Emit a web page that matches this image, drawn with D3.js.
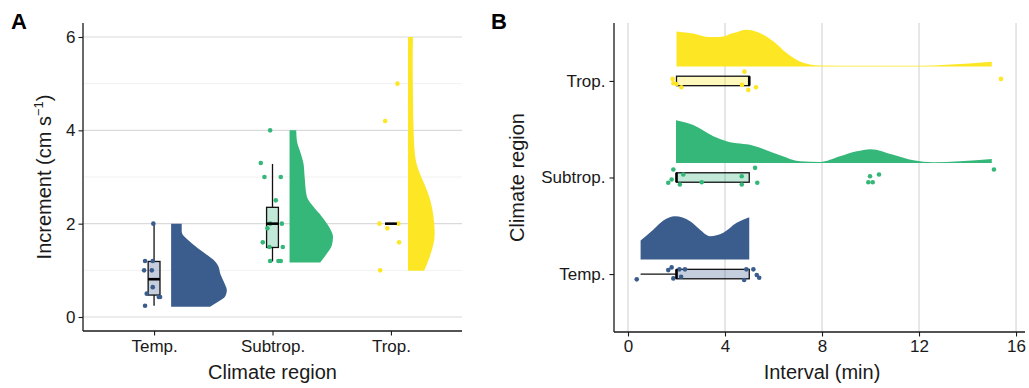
<!DOCTYPE html>
<html><head><meta charset="utf-8">
<script src="https://cdn.jsdelivr.net/npm/d3@7"></script>
<style>body{margin:0;background:#fff}svg{display:block;font-family:"Liberation Sans",Arial,sans-serif}</style>
</head><body><svg id="c" width="1029" height="388"></svg>
<script>
// ---------- data ----------
const regions = ["Temp.", "Subtrop.", "Trop."];
const palette = ["#3a5d8d", "#35b779", "#fde725"];

// Panel A : Increment (cm s^-1)
const incTicks = [0, 2, 4, 6];
const incMinorTicks = [1, 3, 5];
const incTempVals = [2.0, 1.2, 1.2, 1.0, 1.0, 0.64, 0.5, 0.43, 0.43, 0.24];
const incTempJit  = [-0.006, -0.076, -0.011, -0.084, -0.019, -0.011, -0.062, 0.040, 0.051, -0.076];
const incSubVals  = [4.0, 3.3, 3.0, 3.0, 2.5, 2.0, 2.0, 1.9, 1.6, 1.5, 1.5, 1.2, 1.2, 1.2];
const incSubJit   = [-0.020, -0.099, -0.068, 0.070, 0.028, -0.020, 0.079, -0.043, -0.082, -0.026, 0.087, -0.020, 0.050, 0.070];
const incTropVals = [5.0, 4.2, 2.0, 2.0, 1.9, 1.6, 1.0];
const incTropJit  = [0.055, -0.049, -0.097, 0.063, -0.030, 0.069, -0.091];
const incQ1  = [0.47, 1.49, 2.0];
const incMed = [0.81, 2.0, 2.0];
const incQ3  = [1.19, 2.35, 2.0];
const incLo  = [0.24, 1.19, 2.0];
const incHi  = [2.0, 3.28, 2.0];
// half-violin density profiles (value, relative density)
const incTempDensV = [2.0, 1.83, 1.58, 1.36, 1.19, 1.08, 0.94, 0.72, 0.58, 0.44, 0.33, 0.22];
const incTempDens  = [0.19, 0.19, 0.37, 0.61, 0.79, 0.85, 0.88, 0.96, 1.0, 0.97, 0.85, 0.70];
const incSubDensV  = [4.0, 3.79, 3.51, 3.29, 3.01, 2.58, 2.36, 2.15, 1.93, 1.72, 1.54, 1.36, 1.17];
const incSubDens   = [0.12, 0.13, 0.20, 0.25, 0.27, 0.31, 0.43, 0.58, 0.71, 0.78, 0.76, 0.67, 0.55];
const incTropDensV = [6.0, 5.44, 4.72, 4.01, 3.43, 3.15, 2.86, 2.58, 2.29, 2.01, 1.79, 1.58, 1.29, 0.99];
const incTropDens  = [0.09, 0.084, 0.09, 0.10, 0.13, 0.19, 0.29, 0.38, 0.44, 0.47, 0.48, 0.46, 0.39, 0.29];

// Panel B : Interval (min)
const intTicks = [0, 4, 8, 12, 16];
const intTempVals = [0.36, 1.66, 1.8, 1.87, 2.12, 2.35, 2.19, 4.88, 5.17, 4.79, 5.31, 5.41];
const intTempJit  = [0.055, -0.041, -0.069, 0.045, -0.049, -0.049, 0.028, -0.049, -0.049, 0.062, 0.010, 0.038];
const intSubVals  = [1.87, 1.66, 1.8, 2.14, 3.04, 4.69, 4.69, 5.24, 5.33, 9.98, 10.35, 9.91, 10.09, 15.09, 2.28];
const intSubJit   = [-0.083, 0.055, 0.021, 0.073, 0.049, -0.013, 0.073, -0.100, 0.055, -0.013, -0.031, 0.049, 0.049, -0.083, -0.031];
const intTropVals = [1.84, 2.0, 2.2, 4.8, 4.7, 4.96, 5.28, 15.38, 1.87];
const intTropJit  = [-0.021, 0.031, 0.065, -0.096, 0.041, 0.093, 0.065, -0.021, 0.024];
const intQ1  = [2.0, 2.0, 2.0];
const intMed = [2.0, 2.0, 5.0];
const intQ3  = [5.0, 5.0, 5.0];
const intLo  = [0.52, 2.0, 2.0];
const intHi  = [5.0, 5.0, 5.0];
const intTempDensV = [0.52, 1.04, 1.46, 1.94, 2.56, 2.97, 3.38, 3.93, 4.48, 5.0];
const intTempDens  = [0.44, 0.69, 0.90, 1.0, 0.885, 0.69, 0.54, 0.62, 0.85, 0.98];
const intSubDensV  = [1.98, 2.69, 3.52, 4.07, 5.17, 6.27, 7.09, 7.92, 8.74, 9.43, 10.0, 10.94, 11.77, 12.59, 13.69, 15.0];
const intSubDens   = [0.99, 0.88, 0.62, 0.50, 0.40, 0.18, 0.04, 0.023, 0.155, 0.27, 0.32, 0.19, 0.062, 0.016, 0.039, 0.092];
const intTropDensV = [2.0, 2.7, 3.3, 3.8, 4.34, 4.9, 5.44, 5.99, 6.54, 7.09, 7.92, 9.57, 12.0, 13.14, 15.0];
const intTropDens  = [0.81, 0.76, 0.68, 0.68, 0.77, 0.85, 0.77, 0.58, 0.31, 0.115, 0.023, 0.016, 0.016, 0.039, 0.109];

// ---------- drawing ----------
const svg = d3.select("#c");
const FONT_TICK = 17, FONT_TITLE = 20;
const zip = (a, b) => a.map((v, i) => ({v, w: b[i]}));

// ===== Panel A =====
const A = {l: 83, r: 462, t: 23, b: 331};
const xA = d3.scalePoint(regions, [A.l, A.r]).padding(0.6);
const stepA = xA.step();
const yA = d3.scaleLinear([-0.3, 6.3], [A.b, A.t]);
const wA = d3.scaleLinear([0, 1], [0, 55.7]);
const gA = svg.append("g");

gA.selectAll(".mn").data(incMinorTicks).join("line")
  .attr("x1", A.l).attr("x2", A.r).attr("y1", d => yA(d)).attr("y2", d => yA(d))
  .attr("stroke", "#ededed").attr("stroke-width", 0.8);
gA.selectAll(".mj").data(incTicks).join("line")
  .attr("x1", A.l).attr("x2", A.r).attr("y1", d => yA(d)).attr("y2", d => yA(d))
  .attr("stroke", "#dadada").attr("stroke-width", 1.2);

const incDens = [zip(incTempDensV, incTempDens), zip(incSubDensV, incSubDens), zip(incTropDensV, incTropDens)];
incDens.forEach((prof, i) => {
  const x0 = xA(regions[i]) + 0.144 * stepA;
  const area = d3.area().y(d => yA(d.v)).x0(x0).x1(d => x0 + wA(d.w)).curve(d3.curveMonotoneY);
  gA.append("path").attr("d", area(prof.slice().sort((a, b) => b.v - a.v))).attr("fill", palette[i]);
});

const bwA = 0.05 * stepA;
regions.forEach((r, i) => {
  const cx = xA(r);
  gA.append("line").attr("x1", cx).attr("x2", cx).attr("y1", yA(incHi[i])).attr("y2", yA(incQ3[i]))
    .attr("stroke", "#111").attr("stroke-width", 1.3);
  gA.append("line").attr("x1", cx).attr("x2", cx).attr("y1", yA(incQ1[i])).attr("y2", yA(incLo[i]))
    .attr("stroke", "#111").attr("stroke-width", 1.3);
  if (incQ3[i] > incQ1[i]) {
    gA.append("rect").attr("x", cx - bwA).attr("width", 2 * bwA)
      .attr("y", yA(incQ3[i])).attr("height", yA(incQ1[i]) - yA(incQ3[i]))
      .attr("fill", palette[i]).attr("fill-opacity", 0.3).attr("stroke", "#111").attr("stroke-width", 1.3);
  }
});
const incPts = [[incTempVals, incTempJit], [incSubVals, incSubJit], [incTropVals, incTropJit]];
incPts.forEach(([vals, jit], i) => {
  gA.selectAll(null).data(vals).join("circle")
    .attr("cx", (d, k) => xA(regions[i]) + jit[k] * stepA).attr("cy", d => yA(d))
    .attr("r", 2.3).attr("fill", palette[i]);
});
regions.forEach((r, i) => {
  const cx = xA(r);
  gA.append("line").attr("x1", cx - bwA).attr("x2", cx + bwA).attr("y1", yA(incMed[i])).attr("y2", yA(incMed[i]))
    .attr("stroke", "#000").attr("stroke-width", 2.6);
});

// axes A
const axA = gA.append("g").attr("transform", `translate(${A.l},0)`)
  .call(d3.axisLeft(yA).tickValues(incTicks).tickFormat(d3.format("d")).tickSize(4.5).tickPadding(3));
const axAx = gA.append("g").attr("transform", `translate(0,${A.b})`)
  .call(d3.axisBottom(xA).tickSize(4.5).tickPadding(4));
[axA, axAx].forEach(a => {
  a.select(".domain").attr("stroke", "#1a1a1a").attr("stroke-width", 1.3);
  a.selectAll(".tick line").attr("stroke", "#1a1a1a").attr("stroke-width", 1.1);
  a.selectAll(".tick text").attr("font-size", FONT_TICK).attr("fill", "#1a1a1a").attr("font-family", "Liberation Sans, Arial, sans-serif");
});
axA.select(".domain").attr("d", `M0,${A.t}V${A.b}`);
axAx.select(".domain").attr("d", `M${A.l},0H${A.r}`);

gA.append("text").attr("x", (A.l + A.r) / 2).attr("y", 379).attr("text-anchor", "middle")
  .attr("font-size", FONT_TITLE).attr("fill", "#1a1a1a").text("Climate region");
const yt = gA.append("text").attr("transform", `translate(51,${(A.t + A.b) / 2}) rotate(-90)`)
  .attr("text-anchor", "middle").attr("font-size", FONT_TITLE).attr("fill", "#1a1a1a");
yt.append("tspan").text("Increment (cm s");
yt.append("tspan").attr("font-size", 13).attr("dy", -8).text("\u22121");
yt.append("tspan").attr("dy", 8).text(")");
svg.append("text").attr("x", 11).attr("y", 29).attr("font-size", 22).attr("font-weight", "bold").text("A");

// ===== Panel B =====
const B = {l: 614, r: 1025, t: 23, b: 332};
const xB = d3.scaleLinear([-0.577, 16.37], [B.l, B.r]);
const yB = d3.scalePoint(regions, [B.b, B.t]).padding(0.6);
const stepB = yB.step();
const hB = d3.scaleLinear([0, 1], [0, 43.3]);
const gB = svg.append("g");

gB.selectAll(".gv").data(intTicks).join("line")
  .attr("x1", d => xB(d)).attr("x2", d => xB(d)).attr("y1", B.t).attr("y2", B.b)
  .attr("stroke", "#d6d6d6").attr("stroke-width", 1.2);

const intDens = [zip(intTempDensV, intTempDens), zip(intSubDensV, intSubDens), zip(intTropDensV, intTropDens)];
intDens.forEach((prof, i) => {
  const base = yB(regions[i]) - 0.15 * stepB;
  const area = d3.area().x(d => xB(d.v)).y0(base).y1(d => base - hB(d.w)).curve(d3.curveMonotoneX);
  gB.append("path").attr("d", area(prof)).attr("fill", palette[i]);
});

const bhB = 0.049 * stepB;
regions.forEach((r, i) => {
  const cy = yB(r);
  gB.append("line").attr("x1", xB(intLo[i])).attr("x2", xB(intQ1[i])).attr("y1", cy).attr("y2", cy)
    .attr("stroke", "#111").attr("stroke-width", 1.3);
  gB.append("line").attr("x1", xB(intQ3[i])).attr("x2", xB(intHi[i])).attr("y1", cy).attr("y2", cy)
    .attr("stroke", "#111").attr("stroke-width", 1.3);
  gB.append("rect").attr("x", xB(intQ1[i])).attr("width", xB(intQ3[i]) - xB(intQ1[i]))
    .attr("y", cy - bhB).attr("height", 2 * bhB)
    .attr("fill", palette[i]).attr("fill-opacity", 0.3).attr("stroke", "#111").attr("stroke-width", 1.3);
});
const intPts = [[intTempVals, intTempJit], [intSubVals, intSubJit], [intTropVals, intTropJit]];
intPts.forEach(([vals, jit], i) => {
  gB.selectAll(null).data(vals).join("circle")
    .attr("cx", d => xB(d)).attr("cy", (d, k) => yB(regions[i]) + jit[k] * stepB)
    .attr("r", 2.3).attr("fill", palette[i]);
});
regions.forEach((r, i) => {
  const cy = yB(r);
  gB.append("line").attr("x1", xB(intMed[i])).attr("x2", xB(intMed[i])).attr("y1", cy - bhB).attr("y2", cy + bhB)
    .attr("stroke", "#000").attr("stroke-width", 2.6);
});

const axB = gB.append("g").attr("transform", `translate(${B.l},0)`)
  .call(d3.axisLeft(yB).tickSize(4.5).tickPadding(4));
const axBx = gB.append("g").attr("transform", `translate(0,${B.b})`)
  .call(d3.axisBottom(xB).tickValues(intTicks).tickSize(4.5).tickPadding(3));
[axB, axBx].forEach(a => {
  a.select(".domain").attr("stroke", "#1a1a1a").attr("stroke-width", 1.3);
  a.selectAll(".tick line").attr("stroke", "#1a1a1a").attr("stroke-width", 1.1);
  a.selectAll(".tick text").attr("font-size", FONT_TICK).attr("fill", "#1a1a1a").attr("font-family", "Liberation Sans, Arial, sans-serif");
});
axB.select(".domain").attr("d", `M0,${B.t}V${B.b}`);
axBx.select(".domain").attr("d", `M${B.l},0H${B.r}`);

gB.append("text").attr("x", xB(8)).attr("y", 379).attr("text-anchor", "middle")
  .attr("font-size", FONT_TITLE).attr("fill", "#1a1a1a").text("Interval (min)");
gB.append("text").attr("transform", `translate(524,${(B.t + B.b) / 2}) rotate(-90)`)
  .attr("text-anchor", "middle").attr("font-size", FONT_TITLE).attr("fill", "#1a1a1a").text("Climate region");
svg.append("text").attr("x", 491).attr("y", 29).attr("font-size", 22).attr("font-weight", "bold").text("B");
</script></body></html>
